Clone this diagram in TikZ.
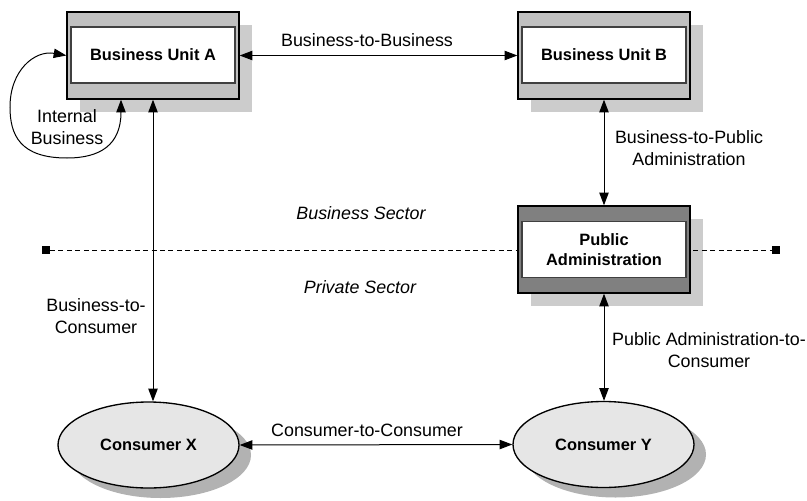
\documentclass[tikz,border=0pt]{standalone}
\usepackage{fontspec}
\setmainfont{Liberation Sans}
\usetikzlibrary{arrows.meta,shapes.geometric,calc}
\definecolor{boxgray}{HTML}{C0C0C0}
\definecolor{pagray}{HTML}{808080}
\definecolor{shadowbox}{HTML}{CCCCCC}
\definecolor{ellfill}{HTML}{E6E6E6}
\definecolor{ellshadow}{HTML}{B2B2B2}
\definecolor{innerline}{HTML}{404040}
\begin{document}
\begin{tikzpicture}[x=0.75pt,y=-0.75pt,
  tip/.style={Triangle[length=9.5pt,width=7pt]},
  conn/.style={line width=0.75pt,{Triangle[length=9.5pt,width=7pt]}-{Triangle[length=9.5pt,width=7pt]}},
  outerbox/.style={draw=black,line width=1pt,minimum width=129pt,minimum height=65.25pt,inner sep=0pt},
  innerbox/.style={draw=innerline,fill=white,line width=1pt,minimum width=123pt,minimum height=42pt,inner sep=0pt,align=center,font=\fontsize{12.3}{15}\selectfont\bfseries},
  shbox/.style={fill=shadowbox,draw=none,minimum width=129pt,minimum height=65.25pt,inner sep=0pt},
  cons/.style={ellipse,draw=black,line width=1pt,fill=ellfill,minimum width=135.75pt,minimum height=64.5pt,inner sep=0pt,font=\fontsize{12.3}{15}\selectfont\bfseries},
  conssh/.style={ellipse,fill=ellshadow,draw=none,minimum width=135.75pt,minimum height=64.5pt,inner sep=0pt},
  lab/.style={align=center,inner sep=0pt,font=\fontsize{13.4}{16.5}\selectfont},
  sector/.style={inner sep=0pt,font=\fontsize{13.4}{16.5}\selectfont\itshape},
  sq/.style={fill=black,draw=none,minimum size=5.5pt,inner sep=0pt},
  divider/.style={line width=0.75pt,dash pattern=on 3.75pt off 2.6pt}
]
\useasboundingbox (0,0) rectangle (807,500);

% shadows
\node[shbox] (Ash) at (166,68) {};
\node[shbox] (Bsh) at (617,68) {};
\node[shbox] (Psh) at (617,262) {};
\node[conssh] (Xsh) at (160.5,455) {};
\node[conssh] (Ysh) at (615.5,454.5) {};

% sector divider
\node[sq] (dl) at (46,250) {};
\node[sq] (dr) at (776,250) {};
\draw[divider] (dl) -- (dr);

% boxes
\node[outerbox,fill=boxgray] (A) at (153,55.5) {};
\node[innerbox] (Ain) at (153,55) {Business Unit A};
\node[outerbox,fill=boxgray] (B) at (604,55.5) {};
\node[innerbox] (Bin) at (604,55) {Business Unit B};
\node[outerbox,fill=pagray] (P) at (604,249.5) {};
\node[innerbox] (Pin) at (604,249.5) {Public\\Administration};

% consumers
\node[cons] (X) at (148.5,445) {Consumer X};
\node[cons] (Y) at (603.5,444.5) {Consumer Y};

% connectors
\draw[conn] (A.east) -- (B.west);
\draw[conn] (A.south) -- (A.south |- X.north);
\draw[conn] (B.south) -- (P.north);
\draw[conn] (P.south) -- (P.south |- Y.north);
\draw[conn] (X.east) -- (Y.west);
\coordinate (ib) at ($(A.south)+(-32,0)$);
\draw[conn] (ib) .. controls (121,145) and (100,158) .. (67,158)
  .. controls (20,158) and (10,135) .. (10,107)
  .. controls (10,70) and (35,50) .. (A.west);

% labels
\node[lab] (lbb) at (367,40) {Business-to-Business};
\node[lab] (lib) at (67,127) {Internal\\Business};
\node[lab] (lbp) at (689,148) {Business-to-Public\\Administration};
\node[sector] (bs) at (361,213) {Business Sector};
\node[sector] (ps) at (360,287) {Private Sector};
\node[lab] (lbc) at (96,316) {Business-to-\\Consumer};
\node[lab] (lpc) at (709,350) {Public Administration-to-\\Consumer};
\node[lab] (lcc) at (367,430) {Consumer-to-Consumer};
\end{tikzpicture}
\end{document}
